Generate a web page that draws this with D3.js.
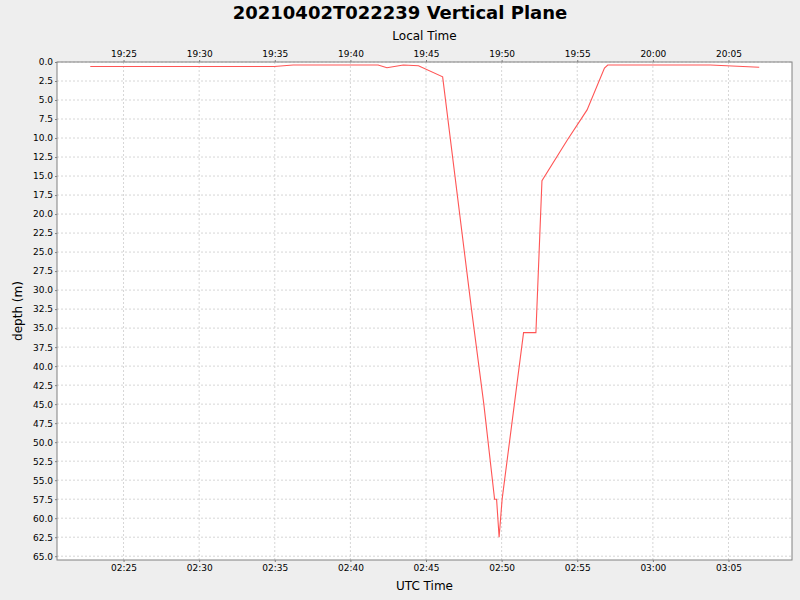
<!DOCTYPE html>
<html>
<head>
<meta charset="utf-8">
<script src="https://cdn.jsdelivr.net/npm/d3@7"></script>
<style>
  body { margin: 0; background: #eeeeee; }
  svg { display: block; font-family: "DejaVu Sans", sans-serif; }
</style>
</head>
<body>
<svg id="chart" width="800" height="600"></svg>
<script>
// Samples (UTC clock time, depth in metres)
const sampleTimes = ["02:22:48", "02:34:58", "02:36:13", "02:41:50", "02:42:25", "02:43:30",
                     "02:44:30", "02:46:06", "02:48:00", "02:48:49", "02:49:32", "02:49:40",
                     "02:49:50", "02:50:02", "02:51:27", "02:52:16", "02:52:40", "02:54:20",
                     "02:55:39", "02:56:48", "02:57:01", "03:03:48", "03:07:02"];
const sampleDepths = [0.6, 0.6, 0.4, 0.4, 0.75, 0.4,
                      0.5, 1.95, 32.4, 44.9, 57.5, 57.5,
                      62.5, 57.5, 35.6, 35.6, 15.6, 10.3,
                      6.3, 0.8, 0.4, 0.4, 0.7];

const chartTitle = "20210402T022239 Vertical Plane";
const dayUtc = "2021-04-02";
const xRange = ["02:20:36", "03:09:12"];
const depthMax = 65.5;
const depthTicks = d3.range(0, 65.01, 2.5);
const localOffsetHours = -7;

const margin = {top: 62, right: 8, bottom: 40, left: 57},
      width = 800 - margin.left - margin.right,
      height = 560 - margin.top;

const parseUtc = d3.utcParse("%Y-%m-%d %H:%M:%S");
const toDate = s => parseUtc(`${dayUtc} ${s}`);

const data = sampleTimes.map((t, i) => ({time: toDate(t), depth: sampleDepths[i]}));

const svg = d3.select("#chart");
const g = svg.append("g").attr("transform", `translate(${margin.left},${margin.top})`);

const x = d3.scaleUtc().domain(xRange.map(toDate)).range([0, width]);
const y = d3.scaleLinear().domain([0, depthMax]).range([0, height]);

const timeTicks = x.ticks(d3.utcMinute.every(5));
const fmt = d3.utcFormat("%H:%M");
const fmtLocal = d => fmt(d3.utcHour.offset(d, localOffsetHours));

// plot background
g.append("rect").attr("width", width).attr("height", height).attr("fill", "white");

// grid lines
g.append("g").selectAll("line")
  .data(timeTicks).enter().append("line")
  .attr("x1", d => x(d)).attr("x2", d => x(d))
  .attr("y1", 0).attr("y2", height)
  .attr("stroke", "#d6d6d6").attr("stroke-dasharray", "2,2");

g.append("g").selectAll("line")
  .data(depthTicks).enter().append("line")
  .attr("x1", 0).attr("x2", width)
  .attr("y1", d => y(d)).attr("y2", d => y(d))
  .attr("stroke", "#d6d6d6").attr("stroke-dasharray", "2,2");

// axes
const styleAxis = sel => {
  sel.select(".domain").remove();
  sel.selectAll(".tick line").attr("stroke", "#808080");
  sel.selectAll(".tick text").attr("font-family", "DejaVu Sans").attr("font-size", "9px").attr("fill", "#000");
};

g.append("g").attr("transform", `translate(0,${height})`)
  .call(d3.axisBottom(x).tickValues(timeTicks).tickFormat(fmt).tickSize(2).tickPadding(3))
  .call(styleAxis);

g.append("g")
  .call(d3.axisTop(x).tickValues(timeTicks).tickFormat(fmtLocal).tickSize(2).tickPadding(3))
  .call(styleAxis);

g.append("g")
  .call(d3.axisLeft(y).tickValues(depthTicks).tickFormat(d3.format(".1f")).tickSize(2).tickPadding(2))
  .call(styleAxis);

// depth line
const line = d3.line().x(d => x(d.time)).y(d => y(d.depth));
g.append("path")
  .datum(data)
  .attr("d", line)
  .attr("fill", "none")
  .attr("stroke", "#ff5555")
  .attr("stroke-width", 1.1);

// plot outline
g.append("rect").attr("width", width).attr("height", height)
  .attr("fill", "none").attr("stroke", "#808080").attr("stroke-width", 1);

// titles and axis labels
svg.append("text")
  .attr("x", 400).attr("y", 19)
  .attr("text-anchor", "middle")
  .attr("font-size", "18px").attr("font-weight", "bold")
  .text(chartTitle);

svg.append("text")
  .attr("x", margin.left + width / 2).attr("y", 40)
  .attr("text-anchor", "middle").attr("font-size", "12px")
  .text("Local Time");

svg.append("text")
  .attr("x", margin.left + width / 2).attr("y", 590)
  .attr("text-anchor", "middle").attr("font-size", "12px")
  .text("UTC Time");

svg.append("text")
  .attr("transform", "rotate(-90)")
  .attr("x", -(margin.top + height / 2)).attr("y", 22)
  .attr("text-anchor", "middle").attr("font-size", "12px")
  .text("depth (m)");
</script>
</body>
</html>
